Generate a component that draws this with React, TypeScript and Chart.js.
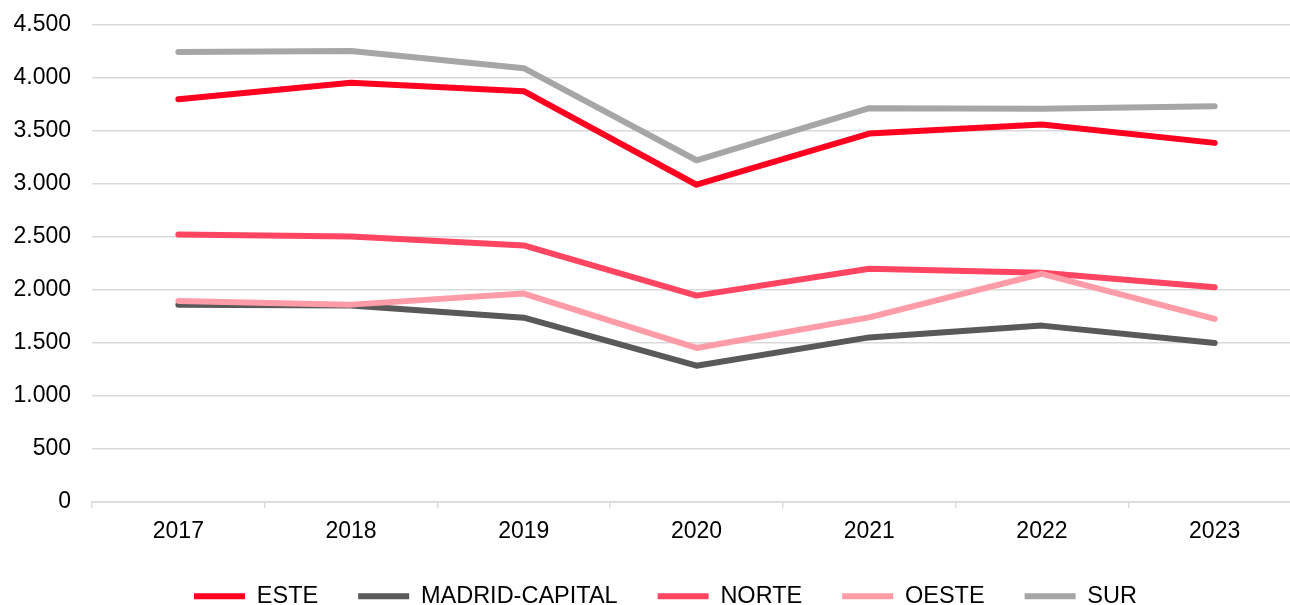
import { useEffect, useRef } from 'react';
import { Chart, registerables } from 'chart.js';

Chart.register(...registerables);

const years = ['2017', '2018', '2019', '2020', '2021', '2022', '2023'];
const este = [3800, 3955, 3876, 2993, 3476, 3561, 3388];
const madridCapital = [1860, 1853, 1739, 1286, 1553, 1664, 1500];
const norte = [2524, 2505, 2420, 1947, 2200, 2162, 2026];
const oeste = [1897, 1862, 1966, 1453, 1742, 2153, 1727];
const sur = [4245, 4255, 4093, 3224, 3715, 3710, 3734];

const seriesNames = ['ESTE', 'MADRID-CAPITAL', 'NORTE', 'OESTE', 'SUR'];
const seriesValues = [este, madridCapital, norte, oeste, sur];
const seriesColors = ['#FF0020', '#595959', '#FF4562', '#FF9CA8', '#A6A6A6'];

const yMin = 0;
const yMax = 4500;
const yStep = 500;

const formatThousands = (v: number) =>
  Math.round(v).toString().replace(/\B(?=(\d{3})+(?!\d))/g, '.');

const FONT = '"Liberation Sans", Arial, sans-serif';

const legendShift = {
  id: 'legendShift',
  afterLayout(chart: any) {
    const lg = chart.legend;
    if (lg) {
      lg.left += 9;
      lg.right += 9;
    }
  },
};

export default function App() {
  const canvasRef = useRef<HTMLCanvasElement | null>(null);

  useEffect(() => {
    document.documentElement.style.overflow = 'hidden';
    document.body.style.overflow = 'hidden';
    document.body.style.margin = '0';
    const canvas = canvasRef.current;
    if (!canvas) return;
    const chart = new Chart(canvas, {
      type: 'line',
      data: {
        labels: years,
        datasets: seriesNames.map((name, i) => ({
          label: name,
          data: seriesValues[i],
          borderColor: seriesColors[i],
          backgroundColor: seriesColors[i],
          borderWidth: 6,
          borderCapStyle: 'round' as const,
          borderJoinStyle: 'round' as const,
          pointRadius: 0,
          pointHoverRadius: 0,
          tension: 0,
          fill: false,
          order: seriesNames.length - i,
        })),
      },
      plugins: [legendShift],
      options: {
        animation: false,
        responsive: true,
        maintainAspectRatio: false,
        layout: { padding: { left: 12, right: 30, top: 25, bottom: 0 } },
        plugins: {
          tooltip: { enabled: false },
          legend: {
            position: 'bottom',
            labels: {
              usePointStyle: true,
              pointStyle: 'line',
              pointStyleWidth: 51,
              padding: 40,
              color: '#000',
              font: { family: FONT, size: 23.5 },
              sort: (a: any, b: any) => a.datasetIndex - b.datasetIndex,
            },
          },
        },
        scales: {
          x: {
            offset: true,
            grid: {
              offset: true,
              drawOnChartArea: false,
              drawTicks: true,
              tickLength: 6,
              color: '#D9D9D9',
              lineWidth: 1.5,
            },
            border: { display: true, color: '#D9D9D9', width: 1.5 },
            ticks: {
              color: '#000',
              padding: 10,
              maxRotation: 0,
              font: { family: FONT, size: 23 },
            },
            afterFit: (scale: any) => {
              scale.height = 42.5;
            },
          },
          y: {
            min: yMin,
            max: yMax,
            grid: { color: '#D9D9D9', lineWidth: 1.5, drawTicks: false },
            border: { display: false },
            ticks: {
              stepSize: yStep,
              padding: 21,
              color: '#000',
              font: { family: FONT, size: 23 },
              callback: (v: any) => formatThousands(Number(v)),
            },
            afterFit: (scale: any) => {
              scale.width = 80;
              scale.paddingTop = 0;
              scale.paddingBottom = 0;
            },
          },
        },
      },
    });
    return () => chart.destroy();
  }, []);

  return (
    <div style={{ position: 'fixed', left: 0, top: 0, width: 1331, height: 618 }}>
      <canvas ref={canvasRef} />
    </div>
  );
}
